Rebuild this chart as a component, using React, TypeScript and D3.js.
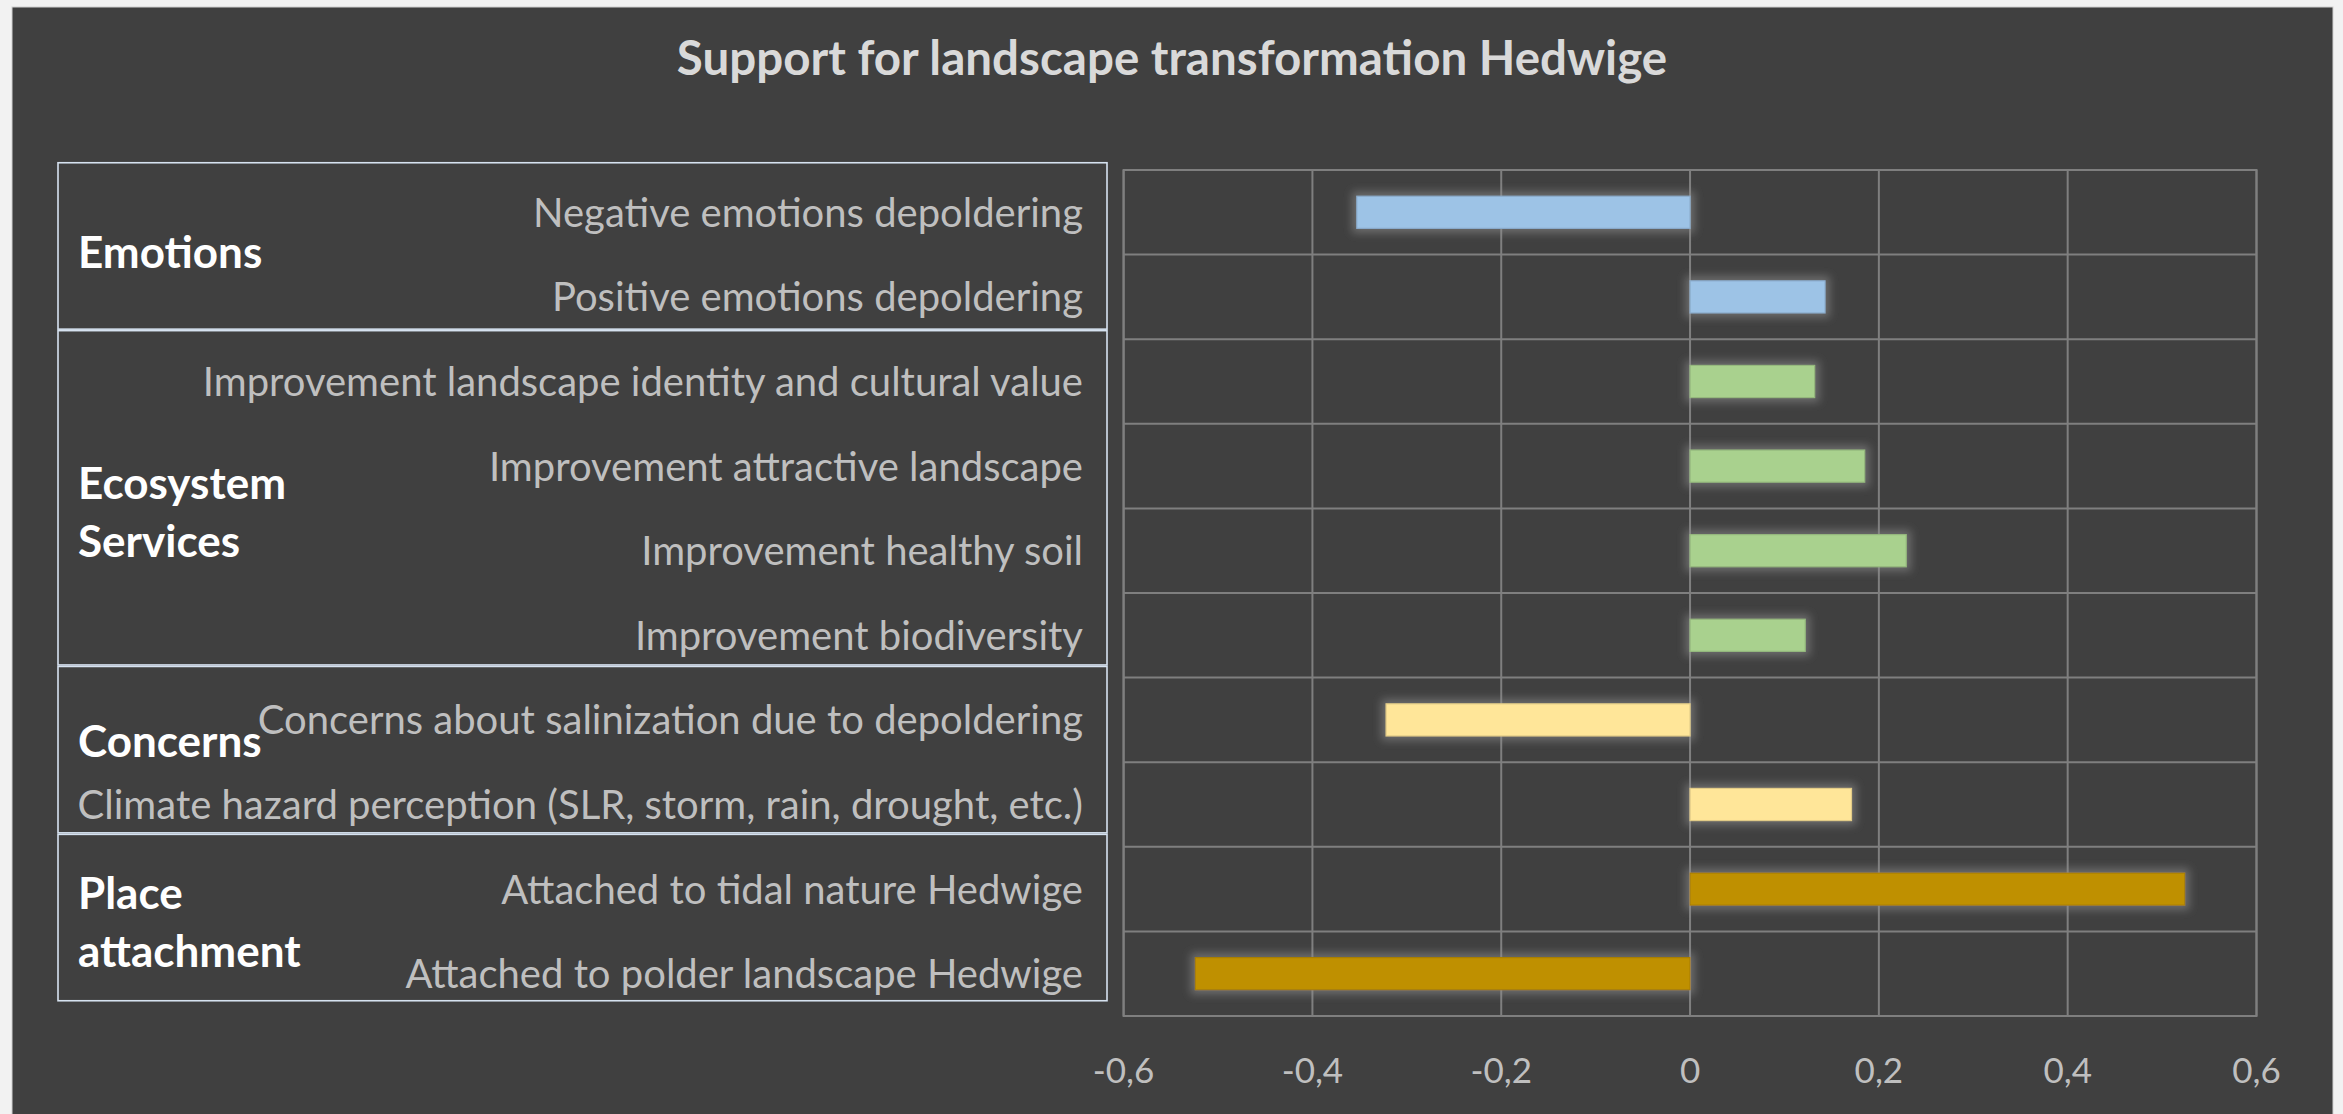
import React from "react";
import * as d3 from "d3";

// ---------- data ----------
const categories = [
  "Negative emotions depoldering",
  "Positive emotions depoldering",
  "Improvement landscape identity and cultural value",
  "Improvement attractive landscape",
  "Improvement healthy soil",
  "Improvement biodiversity",
  "Concerns about salinization due to depoldering",
  "Climate hazard perception (SLR, storm, rain, drought, etc.)",
  "Attached to tidal nature Hedwige",
  "Attached to polder landscape Hedwige",
];
const values = [-0.353, 0.143, 0.132, 0.185, 0.229, 0.122, -0.322, 0.171, 0.524, -0.524];
const groupNames = [["Emotions"], ["Ecosystem", "Services"], ["Concerns"], ["Place", "attachment"]];
const groupSizes = [2, 4, 2, 2];
const groupColors = ["#9dc3e6", "#a9d18e", "#ffe699", "#bf9000"];
const xTicks = [-0.6, -0.4, -0.2, 0, 0.2, 0.4, 0.6];
const title = "Support for landscape transformation Hedwige";

// ---------- layout ----------
const W = 2343;
const H = 1114;
const FONT = "Lato, 'Open Sans', sans-serif";
const plot = { left: 1123.6, right: 2256.5, top: 170, bottom: 1016 };
const box = { left: 58, right: 1107, top: 162, bottom: 1001.5 };
const labelRight = 1083;
const groupLabelX = 78;
// baseline offset of the first group-label line relative to group centre
const groupLabelShift = [22, 1, 7, -8.5];
const groupLineGap = 58;

const locale = d3.formatLocale({
  decimal: ",",
  thousands: ".",
  grouping: [3],
  currency: ["", ""],
  minus: "-",
});
const fmt = locale.format("~f");

export default function App() {
  const x = d3.scaleLinear().domain([-0.6, 0.6]).range([plot.left, plot.right]);
  const idx = d3.range(categories.length);
  const rows = d3.scaleBand<number>().domain(idx).range([plot.top, plot.bottom]);
  const bars = d3
    .scaleBand<number>()
    .domain(idx)
    .range([plot.top, plot.bottom])
    .paddingInner(0.62)
    .paddingOuter(0.31);
  const boxY = d3.scaleLinear().domain([0, categories.length]).range([box.top, box.bottom]);

  const starts = groupSizes.map((_, i) => d3.sum(groupSizes.slice(0, i)));
  const groupOf = idx.map((i) => {
    let g = 0;
    for (let k = 0; k < starts.length; k++) if (i >= starts[k]) g = k;
    return g;
  });

  const rowLines = d3.range(categories.length + 1).map((i) =>
    i === categories.length ? plot.bottom : (rows(i) as number)
  );

  return (
    <svg
      width={W}
      height={H}
      style={{ position: "absolute", left: 0, top: 0, display: "block" }}
      xmlns="http://www.w3.org/2000/svg"
    >
      <defs>
        <filter id="glow" x="-20%" y="-80%" width="140%" height="260%">
          <feMorphology in="SourceAlpha" operator="dilate" radius="4" result="d" />
          <feGaussianBlur in="d" stdDeviation="4.5" result="b" />
          <feFlood floodColor="#909090" floodOpacity="0.55" />
          <feComposite in2="b" operator="in" result="g" />
          <feMerge>
            <feMergeNode in="g" />
            <feMergeNode in="SourceGraphic" />
          </feMerge>
        </filter>
      </defs>
      <rect x={0} y={0} width={W} height={H} fill="#f2f2f2" />
      <rect x={12} y={7} width={2321} height={H} fill="#404040" stroke="#d0d0d0" strokeWidth={1} />

      <text
        x={1172}
        y={75}
        textAnchor="middle"
        fontFamily={FONT}
        fontWeight="bold"
        fontSize={47.5}
        fill="#d9d9d9"
      >
        {title}
      </text>

      {/* grid */}
      <g stroke="#7f7f7f" strokeWidth={2} fill="none">
        {xTicks.map((t) => (
          <line key={"v" + t} x1={x(t)} x2={x(t)} y1={plot.top} y2={plot.bottom} />
        ))}
        {rowLines.map((y, i) => (
          <line key={"h" + i} x1={plot.left} x2={plot.right} y1={y} y2={y} />
        ))}
        <rect x={plot.left} y={plot.top} width={plot.right - plot.left} height={plot.bottom - plot.top} />
      </g>

      {/* bars */}
      <g filter="url(#glow)">
        {values.map((v, i) => {
          const c = groupColors[groupOf[i]];
          const x0 = x(Math.min(0, v));
          const x1 = x(Math.max(0, v));
          return (
            <rect
              key={i}
              x={x0}
              y={bars(i)}
              width={x1 - x0}
              height={bars.bandwidth()}
              fill={c}
              stroke={d3.color(c)!.darker(0.35).formatHex()}
              strokeWidth={1.2}
            />
          );
        })}
      </g>

      {/* x tick labels */}
      {xTicks.map((t) => (
        <text
          key={"t" + t}
          x={x(t)}
          y={1083}
          textAnchor="middle"
          fontFamily={FONT}
          fontSize={35}
          fill="#bfbfbf"
        >
          {fmt(t)}
        </text>
      ))}

      {/* group boxes */}
      {groupSizes.map((n, g) => {
        const y0 = boxY(starts[g]);
        const y1 = boxY(starts[g] + n);
        return (
          <rect
            key={"b" + g}
            x={box.left}
            y={y0 + 0.75}
            width={box.right - box.left}
            height={y1 - y0 - 1.5}
            fill="none"
            stroke="#d6e2f0"
            strokeWidth={1.6}
          />
        );
      })}

      {/* category labels */}
      {categories.map((c, i) => (
        <text
          key={"c" + i}
          x={labelRight}
          y={(rows(i) as number) + rows.bandwidth() / 2}
          dy="0.36em"
          textAnchor="end"
          fontFamily={FONT}
          fontSize={40}
          fill="#bfbfbf"
        >
          {c}
        </text>
      ))}

      {/* group labels */}
      {groupNames.map((lines, g) => {
        const yc = (boxY(starts[g]) + boxY(starts[g] + groupSizes[g])) / 2;
        return (
          <text
            key={"g" + g}
            x={groupLabelX}
            y={yc + groupLabelShift[g]}
            fontFamily={FONT}
            fontWeight="bold"
            fontSize={44}
            fill="#ffffff"
          >
            {lines.map((l, k) => (
              <tspan key={k} x={groupLabelX} dy={k === 0 ? 0 : groupLineGap}>
                {l}
              </tspan>
            ))}
          </text>
        );
      })}
    </svg>
  );
}
